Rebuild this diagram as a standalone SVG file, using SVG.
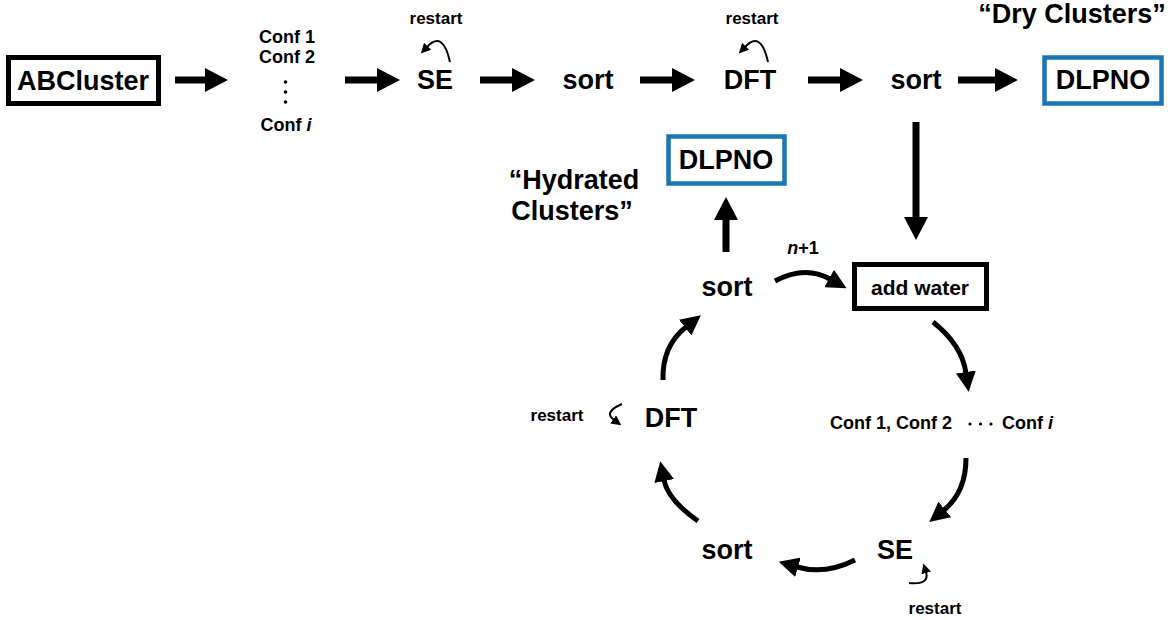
<svg xmlns="http://www.w3.org/2000/svg" width="1172" height="620" viewBox="0 0 1172 620">
<defs>
<style>
text{font-family:"Liberation Sans",Arial,sans-serif;font-weight:bold;fill:#000;text-anchor:middle}
.big{font-size:27px}
.mid{font-size:21px}
.sm{font-size:17px}
.cf{font-size:18px}
.box{fill:#fff;stroke:#000;stroke-width:5}
.blue{fill:#fff;stroke:#1b76b5;stroke-width:4.5}
.sa{stroke:#000;stroke-width:7;fill:none}
.ca{stroke:#000;stroke-width:5;fill:none}
.ra{stroke:#000;stroke-width:2;fill:none}
</style>
<marker id="hs" viewBox="0 0 23 24" refX="1" refY="12" markerWidth="23" markerHeight="24" markerUnits="userSpaceOnUse" orient="auto"><path d="M0,0 L23,12 L0,24 z" fill="#000"/></marker>
<marker id="hc" viewBox="0 0 20 20" refX="1" refY="10" markerWidth="20" markerHeight="20" markerUnits="userSpaceOnUse" orient="auto"><path d="M0,0 L20,10 L0,20 z" fill="#000"/></marker>
<marker id="hr" viewBox="0 0 10 10" refX="1" refY="5" markerWidth="10" markerHeight="10" markerUnits="userSpaceOnUse" orient="auto"><path d="M0,0 L10,5 L0,10 z" fill="#000"/></marker>
</defs>
<rect width="1172" height="620" fill="#fff"/>
<g id="connectors">
<line class="sa" x1="175" y1="80" x2="206" y2="80" marker-end="url(#hs)"/>
<line class="sa" x1="345" y1="80" x2="378" y2="80" marker-end="url(#hs)"/>
<line class="sa" x1="480" y1="80" x2="513" y2="80" marker-end="url(#hs)"/>
<line class="sa" x1="640" y1="80" x2="673" y2="80" marker-end="url(#hs)"/>
<line class="sa" x1="808" y1="80" x2="841" y2="80" marker-end="url(#hs)"/>
<line class="sa" x1="958" y1="80" x2="996" y2="80" marker-end="url(#hs)"/>
<line class="sa" x1="916" y1="122" x2="916" y2="218" marker-end="url(#hs)"/>
<line class="sa" x1="726" y1="252" x2="726" y2="219" marker-end="url(#hs)"/>
<path class="ca" d="M775,281 Q805,265 830,279" marker-end="url(#hc)"/>
<path class="ca" d="M933,322 Q962,345 966,373" marker-end="url(#hc)"/>
<path class="ca" d="M966,458 Q966,492 944,510" marker-end="url(#hc)"/>
<path class="ca" d="M855,560 Q825,575 797,567" marker-end="url(#hc)"/>
<path class="ca" d="M698,521 Q668,500 664,480" marker-end="url(#hc)"/>
<path class="ca" d="M663,380 Q662,346 686,327" marker-end="url(#hc)"/>
<path class="ra" d="M450,62 Q443,30 427,47" marker-end="url(#hr)"/>
<path class="ra" d="M768,62 Q761,30 745,47" marker-end="url(#hr)"/>
<path class="ra" d="M622,404 Q603,412 614,420" marker-end="url(#hr)"/>
<path class="ra" d="M909,583 Q930,585 926,572" marker-end="url(#hr)"/>
</g>
<g id="abcluster"><rect class="box" x="8.5" y="57.5" width="150" height="46"/><text class="big" x="83" y="90">ABCluster</text></g>
<g id="confs">
<text class="cf" x="287" y="43">Conf 1</text>
<text class="cf" x="287" y="63">Conf 2</text>
<circle cx="285.5" cy="82" r="1.8"/><circle cx="285.5" cy="92" r="1.8"/><circle cx="285.5" cy="102" r="1.8"/>
<text class="cf" x="286" y="131">Conf <tspan font-style="italic">i</tspan></text>
</g>
<g id="se1"><text class="big" x="435" y="89">SE</text><text class="sm" x="436" y="24">restart</text></g>
<g id="sort1"><text class="big" x="588" y="89">sort</text></g>
<g id="dft1"><text class="big" x="750" y="89">DFT</text><text class="sm" x="752" y="24">restart</text></g>
<g id="sort2"><text class="big" x="916" y="89">sort</text></g>
<g id="dlpno-dry"><rect class="blue" x="1044.5" y="57.5" width="117" height="46"/><text class="big" x="1103" y="89">DLPNO</text><text class="big" x="1072" y="23">“Dry Clusters”</text></g>
<g id="dlpno-hyd"><rect class="blue" x="668.5" y="136.5" width="116" height="47"/><text class="big" x="726" y="169">DLPNO</text></g>
<g id="hydrated-label"><text class="big" x="574" y="189">“Hydrated</text><text class="big" x="572" y="220">Clusters”</text></g>
<g id="sort3"><text class="big" x="727" y="296">sort</text><text class="cf" x="803" y="254"><tspan font-style="italic">n</tspan>+1</text></g>
<g id="addwater"><rect class="box" x="854.5" y="264.5" width="132" height="44"/><text class="mid" x="920" y="295">add water</text></g>
<g id="confs2">
<text class="cf" x="830" y="429" style="text-anchor:start">Conf 1, Conf 2</text>
<circle cx="970" cy="424" r="1.6"/><circle cx="980.5" cy="424" r="1.6"/><circle cx="991" cy="424" r="1.6"/>
<text class="cf" x="1002" y="429" style="text-anchor:start">Conf <tspan font-style="italic">i</tspan></text>
</g>
<g id="se2"><text class="big" x="895" y="559">SE</text><text class="sm" x="935" y="614">restart</text></g>
<g id="sort4"><text class="big" x="727" y="559">sort</text></g>
<g id="dft2"><text class="big" x="671" y="427">DFT</text><text class="sm" x="557" y="421">restart</text></g>
</svg>
